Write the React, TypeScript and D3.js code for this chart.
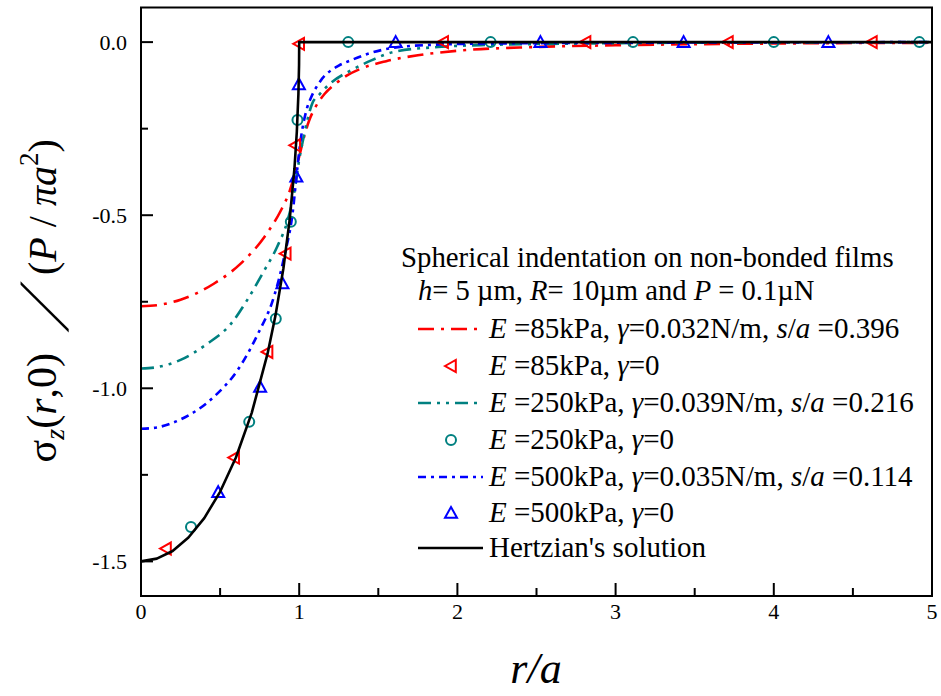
import React from 'react';
import * as d3 from 'd3';

const W = 941;
const H = 696;

const xTickValues = [0, 1, 2, 3, 4, 5];
const xMinorTicks = [0.5, 1.5, 2.5, 3.5, 4.5];
const yTickValues = [0, -0.5, -1.0, -1.5];
const yTickLabels = ['0.0', '-0.5', '-1.0', '-1.5'];
const yMinorTicks = [-0.25, -0.75, -1.25];

// Hertzian solution
const hertzR = [0, 0.1, 0.2, 0.3, 0.4, 0.5, 0.6, 0.7, 0.8, 0.85, 0.9, 0.94, 0.97, 0.985, 0.995, 0.999, 1.0, 5.0];
const hertzV = [-1.5, -1.492, -1.47, -1.431, -1.375, -1.299, -1.2, -1.071, -0.9, -0.79, -0.654, -0.512, -0.365, -0.259, -0.15, -0.067, 0, 0];

// E = 85 kPa, gamma = 0.032 N/m
const red85R = [0, 0.1, 0.25, 0.46, 0.63, 0.78, 0.81, 0.88, 0.94, 1.0, 1.03, 1.06, 1.1, 1.16, 1.23, 1.3, 1.4, 1.55, 1.75, 2.0, 2.5, 3.0, 3.5, 4.0, 5.0];
const red85V = [-0.763, -0.76, -0.744, -0.698, -0.64, -0.563, -0.543, -0.49, -0.43, -0.33, -0.275, -0.23, -0.19, -0.15, -0.12, -0.097, -0.075, -0.055, -0.038, -0.025, -0.014, -0.009, -0.006, -0.004, -0.002];

// E = 250 kPa, gamma = 0.039 N/m
const green250R = [0, 0.1, 0.25, 0.42, 0.57, 0.67, 0.78, 0.86, 0.93, 0.97, 1.0, 1.03, 1.08, 1.13, 1.2, 1.33, 1.46, 1.6, 1.9, 2.2, 2.6, 3.0, 4.0, 5.0];
const green250V = [-0.943, -0.939, -0.918, -0.871, -0.813, -0.746, -0.659, -0.592, -0.51, -0.43, -0.34, -0.27, -0.18, -0.15, -0.118, -0.081, -0.052, -0.028, -0.0135, -0.008, -0.005, -0.003, -0.001, 0];

// E = 500 kPa, gamma = 0.035 N/m
const blue500R = [0, 0.1, 0.25, 0.46, 0.61, 0.74, 0.84, 0.905, 0.963, 0.98, 1.01, 1.05, 1.075, 1.13, 1.25, 1.33, 1.42, 1.6, 1.83, 2.2, 3.0, 5.0];
const blue500V = [-1.117, -1.113, -1.09, -1.025, -0.948, -0.842, -0.736, -0.62, -0.476, -0.4, -0.28, -0.19, -0.16, -0.115, -0.068, -0.052, -0.036, -0.016, -0.008, -0.004, -0.002, 0];

// gamma = 0 markers
const redTriR = [0.158, 0.589, 0.8, 0.915, 0.975, 1.0, 1.91, 2.81, 3.71, 4.62];
const redTriV = [-1.463, -1.2, -0.895, -0.611, -0.298, -0.005, 0, 0, 0, 0];
const greenCircR = [0.316, 0.684, 0.852, 0.947, 0.989, 1.31, 2.21, 3.11, 4.0, 4.92];
const greenCircV = [-1.401, -1.097, -0.799, -0.519, -0.225, 0, 0, 0, 0, 0];
const blueTriR = [0.488, 0.753, 0.894, 0.982, 0.998, 1.61, 2.525, 3.43, 4.345];
const blueTriV = [-1.3, -0.996, -0.697, -0.389, -0.122, 0, 0, 0, 0];

const RED = '#ff0000';
const TEAL = '#008080';
const BLUE = '#0000ff';
const SERIF = "'Liberation Serif','Times New Roman',serif";

const x = d3.scaleLinear().domain([0, 5]).range([141, 932]);
const y = d3.scaleLinear().domain([-1.6, 0.1]).range([596, 7.5]);

function pts(rs: number[], vs: number[]): [number, number][] {
  return rs.map((r, i) => [r, vs[i]]);
}

const lineGen = d3
  .line<[number, number]>()
  .x((d) => x(d[0]))
  .y((d) => y(d[1]))
  .curve(d3.curveMonotoneX);

const lineLin = d3
  .line<[number, number]>()
  .x((d) => x(d[0]))
  .y((d) => y(d[1]))
  .curve(d3.curveLinear);

function TriLeft({ cx, cy, color }: { cx: number; cy: number; color: string }) {
  const s = 6;
  return (
    <path
      d={`M${cx - s},${cy} L${cx + s * 0.8},${cy - s} L${cx + s * 0.8},${cy + s} Z`}
      fill="none"
      stroke={color}
      strokeWidth={2}
    />
  );
}

function TriUp({ cx, cy, color }: { cx: number; cy: number; color: string }) {
  const s = 6;
  return (
    <path
      d={`M${cx},${cy - s} L${cx + s},${cy + s * 0.8} L${cx - s},${cy + s * 0.8} Z`}
      fill="none"
      stroke={color}
      strokeWidth={2}
    />
  );
}

const RED_DASH = '16,7,3,7';
const TEAL_DASH = '13,6,3,6,3,6';
const BLUE_DASH = '8,5,3,5';

export default function App() {
  const legendX0 = 418;
  const legendX1 = 483;
  const legendTextX = 489;
  const legendMarkX = 451;
  const rowY = [258, 291, 329, 366, 403, 440, 477, 513, 548];
  const fs = 29;

  const I = ({ children }: { children: React.ReactNode }) => (
    <tspan fontStyle="italic">{children}</tspan>
  );

  return (
    <svg
      width={W}
      height={H}
      style={{ position: 'absolute', left: 0, top: 0, background: '#fff' }}
      fontFamily={SERIF}
    >
      <rect x={0} y={0} width={W} height={H} fill="#fff" />

      {/* curves */}
      <path d={lineGen(pts(red85R, red85V)) || ''} fill="none" stroke={RED} strokeWidth={2.6} strokeDasharray={RED_DASH} />
      <path d={lineGen(pts(green250R, green250V)) || ''} fill="none" stroke={TEAL} strokeWidth={2.6} strokeDasharray={TEAL_DASH} />
      <path d={lineGen(pts(blue500R, blue500V)) || ''} fill="none" stroke={BLUE} strokeWidth={2.6} strokeDasharray={BLUE_DASH} />

      {/* markers */}
      {redTriR.map((r, i) => (
        <TriLeft key={'rt' + i} cx={x(r)} cy={y(redTriV[i])} color={RED} />
      ))}
      {greenCircR.map((r, i) => (
        <circle key={'gc' + i} cx={x(r)} cy={y(greenCircV[i])} r={5} fill="none" stroke={TEAL} strokeWidth={2} />
      ))}
      {blueTriR.map((r, i) => (
        <TriUp key={'bt' + i} cx={x(r)} cy={y(blueTriV[i])} color={BLUE} />
      ))}

      {/* Hertzian */}
      <path d={lineLin(pts(hertzR, hertzV)) || ''} fill="none" stroke="#000" strokeWidth={2.6} strokeLinejoin="round" />

      {/* frame */}
      <rect x={141} y={7.5} width={932 - 141} height={596 - 7.5} fill="none" stroke="#000" strokeWidth={2} />

      {/* x ticks */}
      {xTickValues.map((t) => (
        <g key={'xt' + t}>
          <line x1={x(t)} x2={x(t)} y1={596} y2={583} stroke="#000" strokeWidth={2} />
          <text x={x(t)} y={619} fontSize={22} textAnchor="middle">
            {t}
          </text>
        </g>
      ))}
      {xMinorTicks.map((t) => (
        <line key={'xm' + t} x1={x(t)} x2={x(t)} y1={596} y2={588} stroke="#000" strokeWidth={2} />
      ))}

      {/* y ticks */}
      {yTickValues.map((t, i) => (
        <g key={'yt' + t}>
          <line x1={141} x2={153} y1={y(t)} y2={y(t)} stroke="#000" strokeWidth={2} />
          <text x={127} y={y(t) + 7.5} fontSize={22} textAnchor="end">
            {yTickLabels[i]}
          </text>
        </g>
      ))}
      {yMinorTicks.map((t) => (
        <line key={'ym' + t} x1={141} x2={148} y1={y(t)} y2={y(t)} stroke="#000" strokeWidth={2} />
      ))}

      {/* x label */}
      <text x={536} y={683} fontSize={44} textAnchor="middle" fontStyle="italic">
        r/a
      </text>

      {/* y label */}
      <g transform="translate(56,305) rotate(-90)">
        <text x={-48} y={0} fontSize={42} textAnchor="end">
          <tspan>σ</tspan>
          <tspan fontSize={28} fontStyle="italic" dy={8}>z</tspan>
          <tspan dy={-8}>(</tspan>
          <tspan fontStyle="italic">r</tspan>
          <tspan>,0)</tspan>
        </text>
        <text transform="translate(-27,12) skewX(-33)" fontSize={72} x={0} y={0}>
          /
        </text>
        <text x={30} y={0} fontSize={40} textAnchor="start">
          <tspan>(</tspan>
          <tspan fontStyle="italic">P</tspan>
          <tspan> / </tspan>
          <tspan fontStyle="italic">πa</tspan>
          <tspan fontSize={27} dy={-18}>2</tspan>
          <tspan dy={18}>)</tspan>
        </text>
      </g>

      {/* legend */}
      <g fontSize={fs}>
        <text x={401} y={rowY[0] + 9} fontSize={28.8}>Spherical indentation on non-bonded films</text>
        <text x={418} y={rowY[1] + 9} fontSize={28.6}>
          <I>h</I>= 5 µm, <I>R</I>= 10µm and <I>P</I> = 0.1µN
        </text>

        <line x1={legendX0} x2={legendX1} y1={rowY[2]} y2={rowY[2]} stroke={RED} strokeWidth={2.6} strokeDasharray={RED_DASH} />
        <text x={legendTextX} y={rowY[2] + 9}>
          <I>E</I> =85kPa, <I>γ</I>=0.032N/m, <I>s</I>/<I>a</I> =0.396
        </text>

        <TriLeft cx={legendMarkX} cy={rowY[3]} color={RED} />
        <text x={legendTextX} y={rowY[3] + 9}>
          <I>E</I> =85kPa, <I>γ</I>=0
        </text>

        <line x1={legendX0} x2={legendX1} y1={rowY[4]} y2={rowY[4]} stroke={TEAL} strokeWidth={2.6} strokeDasharray={TEAL_DASH} />
        <text x={legendTextX} y={rowY[4] + 9}>
          <I>E</I> =250kPa, <I>γ</I>=0.039N/m, <I>s</I>/<I>a</I> =0.216
        </text>

        <circle cx={legendMarkX} cy={rowY[5]} r={5} fill="none" stroke={TEAL} strokeWidth={2} />
        <text x={legendTextX} y={rowY[5] + 9}>
          <I>E</I> =250kPa, <I>γ</I>=0
        </text>

        <line x1={legendX0} x2={legendX1} y1={rowY[6]} y2={rowY[6]} stroke={BLUE} strokeWidth={2.6} strokeDasharray={BLUE_DASH} />
        <text x={legendTextX} y={rowY[6] + 9}>
          <I>E</I> =500kPa, <I>γ</I>=0.035N/m, <I>s</I>/<I>a</I> =0.114
        </text>

        <TriUp cx={legendMarkX} cy={rowY[7]} color={BLUE} />
        <text x={legendTextX} y={rowY[7] + 9}>
          <I>E</I> =500kPa, <I>γ</I>=0
        </text>

        <line x1={legendX0} x2={legendX1} y1={rowY[8]} y2={rowY[8]} stroke="#000" strokeWidth={2.6} />
        <text x={legendTextX} y={rowY[8] + 9}>Hertzian's solution</text>
      </g>
    </svg>
  );
}
